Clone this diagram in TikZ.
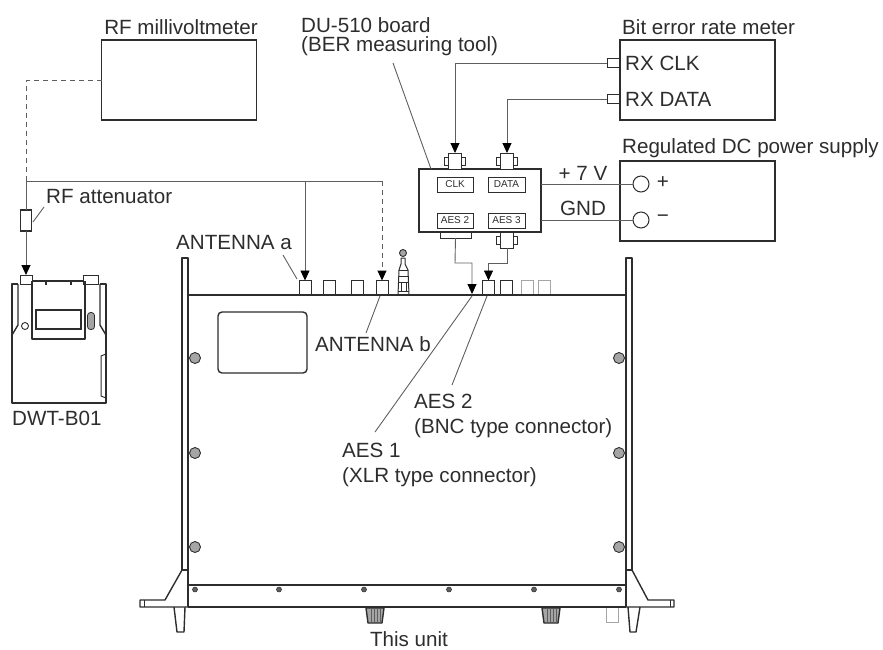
\documentclass[tikz,border=0pt]{standalone}
\usepackage{fontspec}
\setmainfont{Liberation Sans}
\usetikzlibrary{arrows.meta}
\definecolor{inkdark}{RGB}{45,45,45}
\definecolor{wiregrey}{RGB}{95,95,95}
\definecolor{palegrey}{RGB}{165,165,165}
\tikzset{
  lbl/.style={inner sep=0pt,anchor=west,text=inkdark,font=\fontsize{20.6}{24}\selectfont},
  lblc/.style={lbl,anchor=center},
  tiny/.style={draw=inkdark,line width=0.8pt,inner sep=0pt,outer sep=0pt,text=inkdark,
    font=\fontsize{10}{11}\selectfont,minimum height=15pt,minimum width=36pt},
  box/.style={draw=inkdark,line width=1.5pt,inner sep=0pt,outer sep=0pt,minimum width=155pt,minimum height=80pt},
  conn/.style={draw=inkdark,line width=1pt,inner sep=0pt,outer sep=0pt,minimum width=12pt,minimum height=14pt},
  wire/.style={draw=wiregrey,line width=0.9pt},
  dashwire/.style={draw=wiregrey,line width=1pt,dash pattern=on 5pt off 4pt},
  tip/.style={-{Triangle[length=10pt,width=9pt,black]}},
  hull/.style={draw=inkdark,line width=1.4pt,line join=round},
  screw/.style={circle,fill=wiregrey,draw=inkdark,line width=0.5pt,inner sep=0pt,minimum size=5pt},
  bolt/.style={circle,draw=inkdark,fill=palegrey,line width=0.9pt,inner sep=0pt,minimum size=11pt}
}

\begin{document}
\begin{tikzpicture}[x=1pt,y=-1pt]
\useasboundingbox (0,0) rectangle (883,649);

% instruments
\node[box] (rfmeter) at (179,80) {};
\node[box] (bermeter) at (697.5,80) {};
\node[box] (dcsupply) at (697.5,201) {};
\node[box,minimum width=122pt,minimum height=63pt] (duboard) at (480,200.5) {};

% titles
\node[lblc] (rftitle) at (181,27) {RF millivoltmeter};
\node[lbl] (bertitle) at (622,27) {Bit error rate meter};
\node[lbl] (dctitle) at (622,148) {Regulated DC power supply};
\node[lbl] (dutitle) at (301,25) {DU-510 board};
\node[lbl] (dusub) at (301,46) {(BER measuring tool)};

% inside the meters
\node[lbl] (rxclk) at (625,63) {RX CLK};
\node[lbl] (rxdata) at (625,99) {RX DATA};
\node[conn,minimum width=13pt,minimum height=9pt] (clkport) at (613.5,63) {};
\node[conn,minimum width=13pt,minimum height=9pt] (dataport) at (613.5,99) {};
\node[circle,draw=inkdark,line width=1pt,inner sep=0pt,outer sep=0pt,minimum size=16pt] (plus) at (641,184) {};
\node[circle,draw=inkdark,line width=1pt,inner sep=0pt,outer sep=0pt,minimum size=16pt] (minus) at (641,220) {};
\node[lblc] (plussign) at (663,183) {+};
\node[lblc] (minussign) at (663,219) {−};
\node[lblc] (volt) at (583,173) {+ 7 V};
\node[lblc] (gnd) at (583,208) {GND};

% board labels
\node[tiny] (clkbox) at (455,184.5) {CLK};
\node[tiny,minimum width=37pt] (databox) at (506.5,184.5) {DATA};
\node[tiny] (aestwo) at (455,220.5) {AES 2};
\node[tiny,minimum width=37pt] (aesthree) at (506.5,220.5) {AES 3};

% board connectors
\foreach \n/\xx/\yy in {clkjack/455/161,datajack/507/161,aesjack/507/240}{
  \node[conn,minimum width=21pt,minimum height=8pt] at (\xx,\yy) {};
  \node[conn,fill=white,minimum width=13pt,minimum height=16pt] (\n) at (\xx,\yy) {};
}
\node[conn,minimum width=31pt,minimum height=6pt] (xlrjack) at (455.5,235) {};

% connectors on the unit
\foreach \n/\xx in {anta/305,antc/329.5,antd/357,antb/382,bnca/488.5,bncb/506.5}{
  \node[conn,minimum height=15pt] (\n) at (\xx,288) {};
}
\foreach \n/\xx in {bncc/527.5,bncd/544}{
  \node[conn,draw=palegrey,minimum height=15pt] (\n) at (\xx,288) {};
}

% whip connector
\draw[hull,line width=1pt] (398,295) -- (399,270) -- (401,264) -- (401,258) -- (405,258) -- (405,264) -- (408,270) -- (409,295) -- cycle;
\draw[hull,line width=1pt] (399,270) -- (408,270) (399,276) -- (408,276) (399,282) -- (408,282) (398,291) -- (409,291);
\draw[hull,line width=1pt] (401,282) -- (401,291) (406,282) -- (406,291);
\node[circle,draw=inkdark,fill=palegrey,line width=0.9pt,inner sep=0pt,minimum size=7pt] (whip) at (403,253) {};

% chassis
\draw[hull,line width=1.9pt] (188,295) -- (626,295);
\draw[hull] (188,585) -- (626,585);
\draw[hull] (188,607) -- (626,607);
\draw[hull] (182,570) -- (182,258) -- (188,258) -- (188,607);
\draw[hull] (632,570) -- (632,258) -- (626,258) -- (626,607);
\draw[hull] (182,570) -- (188,570) (626,570) -- (632,570);
\draw[hull] (182,570) -- (165,600) -- (140,600) -- (140,607) -- (188,607);
\draw[hull] (632,570) -- (648,600) -- (674,600) -- (674,607) -- (626,607);
\draw[hull,line width=0.8pt] (144,600) -- (144,607) (670,600) -- (670,607);
\draw[hull] (174,607) -- (177,632) -- (184,632) -- (185,607);
\draw[hull] (628,607) -- (630,632) -- (636,632) -- (640,607);
\draw[hull,rounded corners=4pt] (218,312) rectangle (307,373);

% knobs
\foreach \xx in {366,542}{
  \draw[hull,fill=palegrey] (\xx,608) -- ++(2,15) -- ++(14,0) -- ++(2,-15) -- cycle;
  \foreach \dd in {5,8,11,14}{
    \draw[draw=wiregrey,line width=0.8pt] (\xx+\dd,609) -- (\xx+\dd,622);
  }
}
\draw[draw=palegrey,line width=1pt] (606,608) -- (606,622) -- (618,622) -- (618,608);

% screws
\foreach \xx in {195,279,364,449,534,619}{
  \node[screw] at (\xx,589.5) {};
}
\foreach \yy in {358,453,547}{
  \node[bolt] at (195,\yy) {};
  \node[bolt] at (619,\yy) {};
}

% transmitter
\draw[hull] (18,284) -- (12,284) -- (12,403) -- (106,403) -- (106,284) -- (100,284);
\draw[hull] (18,284) -- (18,325) -- (12,335);
\draw[hull] (100,284) -- (100,325) -- (106,335);
\draw[hull] (32,281) -- (32,339) -- (85,339) -- (85,281) (32,281) -- (83,281);
\draw[hull] (46,282) -- (46,285) (71,282) -- (71,285);
\node[conn,minimum height=9pt] (txa) at (26,279.5) {};
\node[conn,minimum width=15pt,minimum height=9pt] (txb) at (90.5,279.5) {};
\node[draw=inkdark,line width=2.4pt,inner sep=0pt,outer sep=0pt,minimum width=45pt,minimum height=19pt] (txwin) at (58.5,319.5) {};
\node[draw=inkdark,fill=palegrey,line width=0.8pt,rounded corners=3pt,inner sep=0pt,minimum width=7pt,minimum height=17pt] (txsw) at (91,321) {};
\node[circle,draw=inkdark,line width=0.9pt,inner sep=0pt,minimum size=7pt] (txled) at (25,326) {};
\draw[hull,line width=1pt] (106,354) -- (101,356) -- (101,396) -- (106,398);
\node[lbl] (txname) at (12,418) {DWT-B01};

% attenuator
\node[draw=inkdark,line width=1.3pt,inner sep=0pt,outer sep=0pt,minimum width=11pt,minimum height=21pt] (atten) at (26,220.5) {};
\node[lbl] (attname) at (46,197) {RF attenuator};
\coordinate (split) at (26,181);
\coordinate (antbend) at (382,181);
\coordinate (antadrop) at (305,181);
\coordinate (rfbend) at (26,80);

% RF wiring
\draw[dashwire] (rfmeter.west) -- (rfbend) -- (split);
\draw[wire] (split) -- (antbend);
\draw[wire] (split) -- (atten.north);
\draw[wire,tip] (atten.south) -- (txa.north);
\draw[wire,tip] (antadrop) -- (anta.north);
\draw[dashwire,tip] (antbend) -- (antb.north);

% board wiring
\draw[wire,tip] (clkport.west) -| (clkjack.north);
\draw[wire,tip] (dataport.west) -| (datajack.north);
\draw[wire] (duboard.east |- plus) -- (plus.west);
\draw[wire] (duboard.east |- minus) -- (minus.west);
\coordinate (xlrpin) at (472,294);
\draw[wire,tip] (xlrjack.south) -- (455,263) -- (472,263) -- (xlrpin);
\draw[wire,tip] (aesjack.south) -- (507,263) -- (488.5,263) -- (bnca.north);

% leaders
\node[lbl] (antaname) at (176,243) {ANTENNA a};
\node[lbl] (antbname) at (315,344) {ANTENNA b};
\node[lbl] (aesbnc) at (414,401) {AES 2};
\node[lbl] (bnctype) at (414,428) {(BNC type connector)};
\node[lbl] (aesxlr) at (342,450) {AES 1};
\node[lbl] (xlrtype) at (342,477) {(XLR type connector)};
\node[lblc] (unitname) at (409,639) {This unit};
\coordinate (xlrfoot) at (472,296);
\coordinate (bncfoot) at (487,296);
\coordinate (antfoot) at (380,296);
\draw[wire] (393,63) -- (431,169);
\draw[wire] (44,207) -- (33,222);
\draw[wire] (283,255) -- (297,279);
\draw[wire] (antfoot) -- (366,333);
\draw[wire] (xlrfoot) -- (375,432);
\draw[wire] (bncfoot) -- (452,385);

\end{tikzpicture}
\end{document}
